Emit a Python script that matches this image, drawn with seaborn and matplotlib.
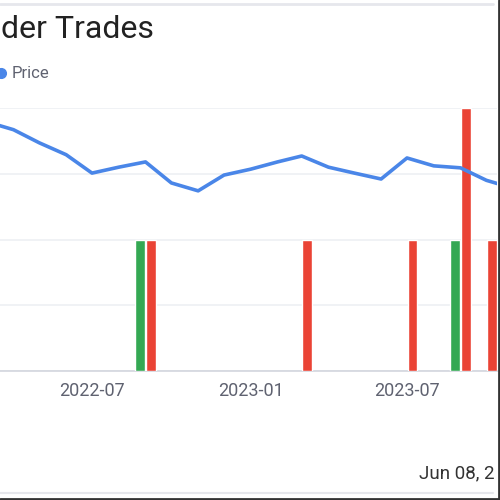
import numpy as np
import pandas as pd
import matplotlib
matplotlib.use("Agg")
import matplotlib.pyplot as plt
import matplotlib.dates as mdates
from matplotlib.lines import Line2D
import seaborn as sns

# ---- data ----
price_dates = ["2022-03-01", "2022-04-01", "2022-05-01", "2022-06-01", "2022-07-01",
               "2022-08-01", "2022-09-01", "2022-10-01", "2022-11-01", "2022-12-01",
               "2023-01-01", "2023-02-01", "2023-03-01", "2023-04-01", "2023-05-01",
               "2023-06-01", "2023-07-01", "2023-08-01", "2023-09-01", "2023-10-01",
               "2023-11-01"]
price_values = [37.9, 36.7, 34.7, 32.9, 30.1, 31.0, 31.8, 28.6, 27.4, 29.8,
                30.7, 31.8, 32.7, 31.0, 30.1, 29.2, 32.4, 31.2, 30.9, 29.0, 27.8]

buy_months = ["2022-09-01", "2023-09-01"]
buy_counts = [1, 1]
sell_months = ["2022-09-01", "2023-03-01", "2023-07-01", "2023-09-01", "2023-10-01"]
sell_counts = [1, 1, 1, 2, 1]

tick_labels = ["2022-07", "2023-01", "2023-07"]

# ---- style ----
sns.set_theme(style="white")
plt.rcParams["font.family"] = ["Roboto", "DejaVu Sans"]

BLUE = "#4a86e8"
GREEN = "#34a853"
RED = "#ea4335"
GRID = "#eef0f3"
TXT = "#5f6270"

fig = plt.figure(figsize=(5, 5), dpi=100)
fig.patch.set_facecolor("white")

W, H = 500, 500
top_px, bot_px = 108, 371
ax = fig.add_axes([0, 1 - bot_px / H, 497 / W, (bot_px - top_px) / H])

# x limits from pixel positions of ticks
d_jul22 = mdates.date2num(pd.Timestamp("2022-07-01"))
d_jul23 = mdates.date2num(pd.Timestamp("2023-07-01"))
px_per_day = (407 - 92) / (d_jul23 - d_jul22)
x_left = d_jul22 - 92 / px_per_day
x_right = d_jul22 + (497 - 92) / px_per_day

# bars
bw = 11.0
off = 6.4
bd = mdates.date2num(pd.to_datetime(buy_months))
sd = mdates.date2num(pd.to_datetime(sell_months))
ax.bar(bd - off, buy_counts, width=bw, color=GREEN, zorder=3)
ax.bar(sd + off, sell_counts, width=bw, color=RED, zorder=3)

ax.set_ylim(0, 2)
ax.set_yticks([0, 0.5, 1, 1.5, 2])
ax.yaxis.grid(True, color=GRID, linewidth=1.2, zorder=0)
ax.xaxis.grid(False)
ax.set_yticklabels([])
ax.tick_params(axis="y", length=0)
for s in ["top", "right", "left"]:
    ax.spines[s].set_visible(False)
ax.spines["bottom"].set_color("#d3d6de")
ax.spines["bottom"].set_linewidth(1.2)

ax.set_xlim(x_left, x_right)
ax.set_xticks(mdates.date2num(pd.to_datetime([t + "-01" for t in tick_labels])))
ax.set_xticklabels(tick_labels, fontsize=13, color=TXT)
ax.tick_params(axis="x", length=4, color="#d3d6de", pad=4)

# price line on twin axis
ax2 = ax.twinx()
pdf = pd.DataFrame({"date": pd.to_datetime(price_dates), "price": price_values})
sns.lineplot(data=pdf, x="date", y="price", ax=ax2, color=BLUE, linewidth=2.6, zorder=4)
ax2.set_ylim(0, 40)
ax2.set_xlim(x_left, x_right)
ax2.set_yticks([])
ax2.set_ylabel("")
ax2.set_xlabel("")
ax.set_xlabel("")
for s in ax2.spines.values():
    s.set_visible(False)

# title, legend, date
fig.text(1 / W, 1 - 30 / H, "der Trades", fontsize=23, color="#222222",
         ha="left", va="center")
fig.add_artist(Line2D([0.5 / W], [1 - 73 / H], marker="o", markersize=7,
                      color=BLUE, transform=fig.transFigure, linestyle="none"))
fig.text(12 / W, 1 - 73 / H, "Price", fontsize=12, color=TXT, ha="left", va="center")
fig.text(419 / W, 1 - 473 / H, "Jun 08, 2", fontsize=13.5, color="#333333",
         ha="left", va="center")

# frame lines
fig.add_artist(Line2D([0, 493 / W], [1 - 4 / H, 1 - 4 / H], color="#e6e7ec",
                      linewidth=2, transform=fig.transFigure))
fig.add_artist(Line2D([0, 493 / W], [1 - 493 / H, 1 - 493 / H], color="#e6e7ec",
                      linewidth=1.5, transform=fig.transFigure))
fig.add_artist(Line2D([498.5 / W, 498.5 / W], [0, 1], color="#333333",
                      linewidth=2, transform=fig.transFigure))
fig.add_artist(Line2D([0, 1], [1 - 498.5 / H, 1 - 498.5 / H], color="#333333",
                      linewidth=2, transform=fig.transFigure))

fig.savefig("out.png", dpi=100)
